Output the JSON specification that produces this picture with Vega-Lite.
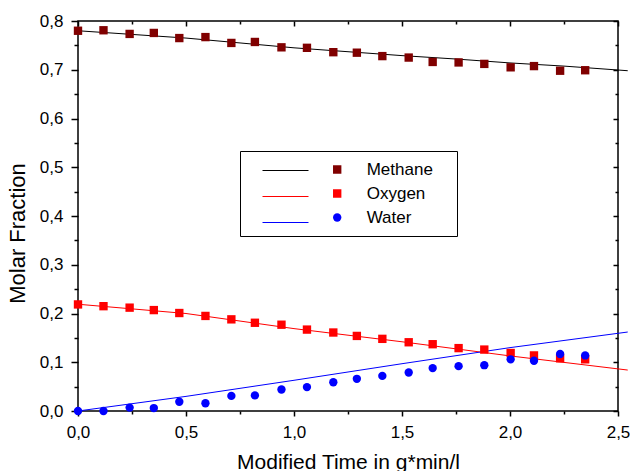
{
  "$schema": "https://vega.github.io/schema/vega-lite/v6.json",
  "width": 540,
  "height": 390,
  "autosize": {"type": "none"},
  "padding": {"left": 78, "top": 21, "right": 12, "bottom": 60},
  "background": "white",
  "config": {
    "font": "Liberation Sans",
    "view": {"stroke": "black", "strokeWidth": 1.5},
    "axis": {
      "grid": false, "domain": false, "tickColor": "black", "tickWidth": 1.5,
      "labelColor": "black", "titleColor": "black", "labelFontSize": 17,
      "titleFontSize": 21, "titleFontWeight": "normal", "labelFlush": false, "labelOverlap": false
    }
  },
  "datasets": {
    "points": [
      {"x": 0, "y": 0.780, "series": "Methane"},
      {"x": 0.118, "y": 0.781, "series": "Methane"},
      {"x": 0.239, "y": 0.7735, "series": "Methane"},
      {"x": 0.351, "y": 0.7755, "series": "Methane"},
      {"x": 0.469, "y": 0.765, "series": "Methane"},
      {"x": 0.590, "y": 0.767, "series": "Methane"},
      {"x": 0.710, "y": 0.755, "series": "Methane"},
      {"x": 0.819, "y": 0.757, "series": "Methane"},
      {"x": 0.942, "y": 0.746, "series": "Methane"},
      {"x": 1.060, "y": 0.745, "series": "Methane"},
      {"x": 1.182, "y": 0.736, "series": "Methane"},
      {"x": 1.291, "y": 0.735, "series": "Methane"},
      {"x": 1.409, "y": 0.728, "series": "Methane"},
      {"x": 1.531, "y": 0.725, "series": "Methane"},
      {"x": 1.642, "y": 0.716, "series": "Methane"},
      {"x": 1.762, "y": 0.715, "series": "Methane"},
      {"x": 1.881, "y": 0.712, "series": "Methane"},
      {"x": 2.003, "y": 0.705, "series": "Methane"},
      {"x": 2.111, "y": 0.7075, "series": "Methane"},
      {"x": 2.232, "y": 0.698, "series": "Methane"},
      {"x": 2.348, "y": 0.699, "series": "Methane"},
      {"x": 0, "y": 0.2186, "series": "Oxygen"},
      {"x": 0.118, "y": 0.215, "series": "Oxygen"},
      {"x": 0.239, "y": 0.212, "series": "Oxygen"},
      {"x": 0.351, "y": 0.207, "series": "Oxygen"},
      {"x": 0.469, "y": 0.201, "series": "Oxygen"},
      {"x": 0.590, "y": 0.195, "series": "Oxygen"},
      {"x": 0.710, "y": 0.188, "series": "Oxygen"},
      {"x": 0.819, "y": 0.181, "series": "Oxygen"},
      {"x": 0.942, "y": 0.177, "series": "Oxygen"},
      {"x": 1.060, "y": 0.167, "series": "Oxygen"},
      {"x": 1.182, "y": 0.161, "series": "Oxygen"},
      {"x": 1.291, "y": 0.154, "series": "Oxygen"},
      {"x": 1.409, "y": 0.148, "series": "Oxygen"},
      {"x": 1.531, "y": 0.141, "series": "Oxygen"},
      {"x": 1.642, "y": 0.137, "series": "Oxygen"},
      {"x": 1.762, "y": 0.129, "series": "Oxygen"},
      {"x": 1.881, "y": 0.126, "series": "Oxygen"},
      {"x": 2.003, "y": 0.119, "series": "Oxygen"},
      {"x": 2.111, "y": 0.114, "series": "Oxygen"},
      {"x": 2.232, "y": 0.108, "series": "Oxygen"},
      {"x": 2.348, "y": 0.106, "series": "Oxygen"},
      {"x": 0, "y": 0.0, "series": "Water"},
      {"x": 0.118, "y": 0.0, "series": "Water"},
      {"x": 0.239, "y": 0.007, "series": "Water"},
      {"x": 0.351, "y": 0.006, "series": "Water"},
      {"x": 0.469, "y": 0.019, "series": "Water"},
      {"x": 0.590, "y": 0.016, "series": "Water"},
      {"x": 0.710, "y": 0.031, "series": "Water"},
      {"x": 0.819, "y": 0.032, "series": "Water"},
      {"x": 0.942, "y": 0.044, "series": "Water"},
      {"x": 1.060, "y": 0.049, "series": "Water"},
      {"x": 1.182, "y": 0.059, "series": "Water"},
      {"x": 1.291, "y": 0.066, "series": "Water"},
      {"x": 1.409, "y": 0.072, "series": "Water"},
      {"x": 1.531, "y": 0.079, "series": "Water"},
      {"x": 1.642, "y": 0.088, "series": "Water"},
      {"x": 1.762, "y": 0.092, "series": "Water"},
      {"x": 1.881, "y": 0.094, "series": "Water"},
      {"x": 2.003, "y": 0.106, "series": "Water"},
      {"x": 2.111, "y": 0.103, "series": "Water"},
      {"x": 2.232, "y": 0.117, "series": "Water"},
      {"x": 2.348, "y": 0.114, "series": "Water"}
    ],
    "lines": [
      {"x": 0, "y": 0.780, "series": "Methane"},
      {"x": 0.5, "y": 0.765, "series": "Methane"},
      {"x": 1.0, "y": 0.745, "series": "Methane"},
      {"x": 1.5, "y": 0.729, "series": "Methane"},
      {"x": 1.75, "y": 0.722, "series": "Methane"},
      {"x": 2.0, "y": 0.714, "series": "Methane"},
      {"x": 2.25, "y": 0.7075, "series": "Methane"},
      {"x": 2.545, "y": 0.698, "series": "Methane"},
      {"x": 0, "y": 0.219, "series": "Oxygen"},
      {"x": 0.5, "y": 0.200, "series": "Oxygen"},
      {"x": 1.0, "y": 0.169, "series": "Oxygen"},
      {"x": 1.5, "y": 0.142, "series": "Oxygen"},
      {"x": 2.0, "y": 0.113, "series": "Oxygen"},
      {"x": 2.545, "y": 0.084, "series": "Oxygen"},
      {"x": 0, "y": 0.0, "series": "Water"},
      {"x": 0.5, "y": 0.030, "series": "Water"},
      {"x": 1.0, "y": 0.063, "series": "Water"},
      {"x": 1.5, "y": 0.097, "series": "Water"},
      {"x": 2.0, "y": 0.130, "series": "Water"},
      {"x": 2.545, "y": 0.162, "series": "Water"}
    ]
  },
  "resolve": {"axis": {"x": "independent", "y": "independent"}},
  "layer": [
    {
      "data": {"name": "lines"},
      "mark": {"type": "line", "strokeWidth": 1},
      "encoding": {
        "x": {
          "field": "x", "type": "quantitative",
          "scale": {"domain": [0, 2.5], "nice": false, "zero": false},
          "axis": {
            "orient": "bottom", "values": [0, 0.5, 1, 1.5, 2, 2.5],
            "labelExpr": "replace(format(datum.value, '.1f'), '.', ',')",
            "tickSize": 5, "labelPadding": 8, "titlePadding": 11,
            "title": "Modified Time in g*min/l"
          }
        },
        "y": {
          "field": "y", "type": "quantitative",
          "scale": {"domain": [0, 0.8], "nice": false, "zero": false},
          "axis": {
            "orient": "left", "values": [0, 0.1, 0.2, 0.3, 0.4, 0.5, 0.6, 0.7, 0.8],
            "labelExpr": "replace(format(datum.value, '.1f'), '.', ',')",
            "tickSize": 7, "labelPadding": 8, "titlePadding": 10,
            "title": "Molar Fraction", "titleY": 212, "titleFontSize": 22
          }
        },
        "stroke": {
          "field": "series", "type": "nominal",
          "scale": {"range": ["#000000", "#ff0000", "#0000ff"]},
          "legend": {
            "orient": "none", "legendX": 162, "legendY": 116, "title": null,
            "padding": 10, "rowPadding": 0, "labelFontSize": 1, "labelOpacity": 0, "labelExpr": "''",
            "symbolType": "stroke", "symbolSize": 2116, "symbolStrokeWidth": 1, "symbolOffset": 12
          }
        }
      }
    },
    {
      "data": {"name": "points"},
      "mark": {"type": "point", "filled": true, "size": 70, "opacity": 1},
      "encoding": {
        "x": {
          "field": "x", "type": "quantitative",
          "scale": {"domain": [0, 2.5], "nice": false, "zero": false},
          "axis": {"orient": "top", "values": [0, 0.5, 1, 1.5, 2, 2.5], "labels": false, "tickSize": -5, "title": null}
        },
        "y": {
          "field": "y", "type": "quantitative",
          "scale": {"domain": [0, 0.8], "nice": false, "zero": false},
          "axis": {"orient": "right", "values": [0, 0.1, 0.2, 0.3, 0.4, 0.5, 0.6, 0.7, 0.8], "labels": false, "tickSize": -5, "title": null}
        },
        "fill": {
          "field": "series", "type": "nominal",
          "scale": {"range": ["#800000", "#ff0000", "#0000ff"]},
          "legend": {
            "orient": "none", "legendX": 162, "legendY": 130, "title": " ",
            "titleOrient": "right", "titlePadding": 14,
            "padding": 10, "rowPadding": 6, "labelFontSize": 17, "labelColor": "black",
            "strokeColor": "black", "clipHeight": 17,
            "symbolSize": 70, "symbolOffset": 78.7, "labelOffset": 21, "symbolStrokeWidth": 0
          }
        },
        "shape": {
          "field": "series", "type": "nominal",
          "scale": {"range": ["square", "square", "circle"]},
          "legend": {
            "orient": "none", "legendX": 162, "legendY": 130, "title": " ",
            "titleOrient": "right", "titlePadding": 14,
            "padding": 10, "rowPadding": 6, "labelFontSize": 17, "labelColor": "black",
            "strokeColor": "black", "clipHeight": 17,
            "symbolSize": 70, "symbolOffset": 78.7, "labelOffset": 21, "symbolStrokeWidth": 0
          }
        }
      }
    },
    {
      "data": {"name": "points"},
      "mark": {"type": "point", "opacity": 0},
      "encoding": {
        "x": {
          "field": "x", "type": "quantitative",
          "scale": {"domain": [0, 2.5], "nice": false, "zero": false},
          "axis": {"orient": "bottom", "values": [0.25, 0.75, 1.25, 1.75, 2.25], "labels": false, "tickSize": 3, "title": null}
        },
        "y": {
          "field": "y", "type": "quantitative",
          "scale": {"domain": [0, 0.8], "nice": false, "zero": false},
          "axis": {"orient": "left", "values": [0.05, 0.15, 0.25, 0.35, 0.45, 0.55, 0.65, 0.75], "labels": false, "tickSize": 4, "title": null}
        }
      }
    },
    {
      "data": {"name": "points"},
      "mark": {"type": "point", "opacity": 0},
      "encoding": {
        "x": {
          "field": "x", "type": "quantitative",
          "scale": {"domain": [0, 2.5], "nice": false, "zero": false},
          "axis": {"orient": "top", "values": [0.25, 0.75, 1.25, 1.75, 2.25], "labels": false, "tickSize": -3, "title": null}
        },
        "y": {
          "field": "y", "type": "quantitative",
          "scale": {"domain": [0, 0.8], "nice": false, "zero": false},
          "axis": {"orient": "right", "values": [0.05, 0.15, 0.25, 0.35, 0.45, 0.55, 0.65, 0.75], "labels": false, "tickSize": -3, "title": null}
        }
      }
    }
  ]
}
